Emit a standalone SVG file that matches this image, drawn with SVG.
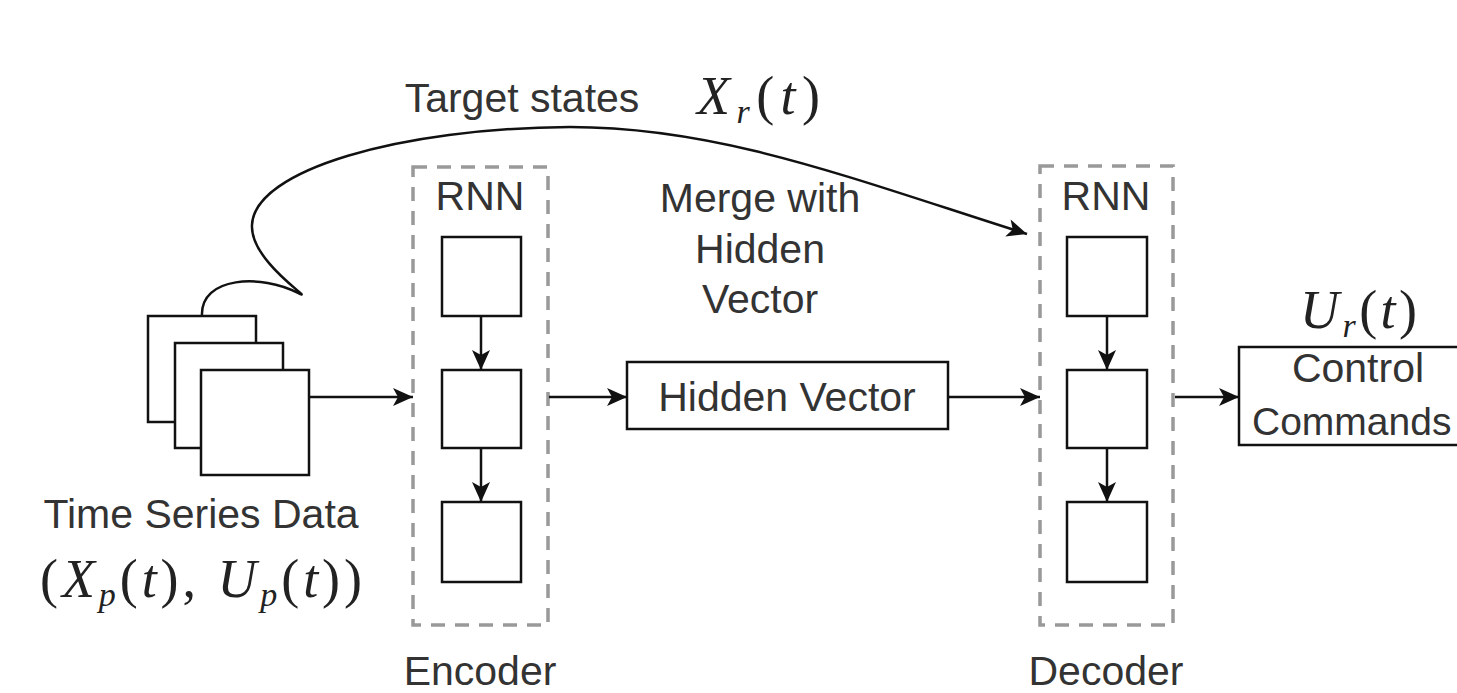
<svg xmlns="http://www.w3.org/2000/svg" width="1457" height="693" viewBox="0 0 1457 693">
<defs>
<style>
.box{fill:#fff;stroke:#111;stroke-width:2.5}
.dash{fill:none;stroke:#999;stroke-width:3.5;stroke-dasharray:14 10}
.lbl{font-family:"Liberation Sans",Arial,sans-serif;font-size:41px;fill:#333;text-anchor:middle}
.math{font-family:"Liberation Serif","Times New Roman",serif;font-size:54px;fill:#222}
.it{font-style:italic}
.sub{font-style:italic;font-size:34px}
.edge{fill:none;stroke:#111;stroke-width:2.5}
</style>
<marker id="arr" markerUnits="userSpaceOnUse" markerWidth="24" markerHeight="24" viewBox="0 0 24 24" refX="21" refY="12" orient="auto">
<path d="M1,3 L21,12 L1,21 L6,12 Z" fill="#111"/>
</marker>
</defs>
<rect width="1457" height="693" fill="#fff"/>

<g id="timeseries">
<rect class="box" x="148" y="316" width="108" height="106"/>
<rect class="box" x="175" y="343" width="108" height="105"/>
<rect class="box" x="201" y="370" width="108" height="105"/>
<text class="lbl" x="201" y="528">Time Series Data</text>
<text class="math" x="40" y="597" textLength="322" lengthAdjust="spacing">(<tspan class="it">X</tspan><tspan class="sub" dy="9">p</tspan><tspan dy="-9">(</tspan><tspan class="it">t</tspan>), <tspan class="it">U</tspan><tspan class="sub" dy="9">p</tspan><tspan dy="-9">(</tspan><tspan class="it">t</tspan>))</text>
</g>

<g id="encoder">
<rect class="dash" x="413" y="167" width="135" height="458"/>
<text class="lbl" x="480" y="210">RNN</text>
<rect class="box" x="442" y="237" width="79" height="79"/>
<rect class="box" x="442" y="370" width="79" height="78"/>
<rect class="box" x="442" y="502" width="79" height="80"/>
<text class="lbl" x="480" y="685">Encoder</text>
</g>

<g id="hidden">
<rect class="box" x="627" y="362" width="321" height="67"/>
<text class="lbl" x="787" y="411">Hidden Vector</text>
</g>

<g id="merge-label">
<text class="lbl" x="760" y="212">Merge with</text>
<text class="lbl" x="760" y="263">Hidden</text>
<text class="lbl" x="760" y="313">Vector</text>
</g>

<g id="target-label">
<text class="lbl" x="522" y="112">Target states</text>
<text class="math" x="697" y="114" textLength="123" lengthAdjust="spacing"><tspan class="it">X</tspan><tspan class="sub" dy="9">r</tspan><tspan dy="-9">(</tspan><tspan class="it">t</tspan>)</text>
</g>

<g id="decoder">
<rect class="dash" x="1040" y="166" width="133" height="459"/>
<text class="lbl" x="1106" y="210">RNN</text>
<rect class="box" x="1067" y="237" width="80" height="79"/>
<rect class="box" x="1067" y="370" width="80" height="78"/>
<rect class="box" x="1067" y="502" width="80" height="80"/>
<text class="lbl" x="1106" y="685">Decoder</text>
</g>

<g id="control">
<rect class="box" x="1239" y="347" width="240" height="98"/>
<text class="lbl" x="1358" y="382">Control</text>
<text class="lbl" x="1252" y="435" style="text-anchor:start;font-size:39px">Commands</text>
<text class="math" x="1300" y="328" textLength="117" lengthAdjust="spacing"><tspan class="it">U</tspan><tspan class="sub" dy="9">r</tspan><tspan dy="-9">(</tspan><tspan class="it">t</tspan>)</text>
</g>

<g id="connectors">
<path class="edge" d="M309 397 L413 397" marker-end="url(#arr)"/>
<path class="edge" d="M549 397 L627 397" marker-end="url(#arr)"/>
<path class="edge" d="M948 397 L1040 397" marker-end="url(#arr)"/>
<path class="edge" d="M1175 397 L1239 397" marker-end="url(#arr)"/>
<path class="edge" d="M481 316 L481 370" marker-end="url(#arr)"/>
<path class="edge" d="M481 448 L481 502" marker-end="url(#arr)"/>
<path class="edge" d="M1107 316 L1107 370" marker-end="url(#arr)"/>
<path class="edge" d="M1107 448 L1107 502" marker-end="url(#arr)"/>
<path class="edge" d="M202 316 C200 276 262 274 298 293 C318 303 250 262 252 225 C254 170 400 128 570 127 C720 127 850 178 1027 234" marker-end="url(#arr)"/>
</g>
</svg>
